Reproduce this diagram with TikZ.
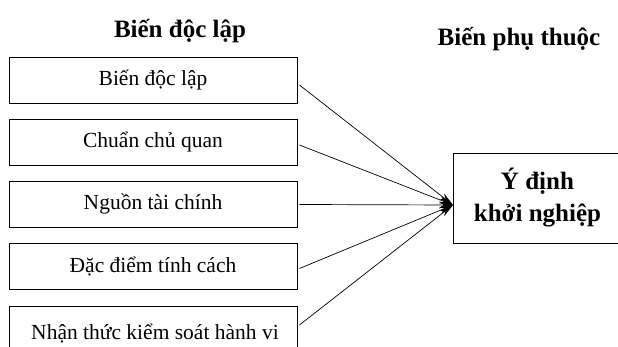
\documentclass[tikz,border=0pt]{standalone}
\usepackage{fontspec}
\setmainfont{Liberation Serif}
\usetikzlibrary{arrows.meta}
\begin{document}
\begin{tikzpicture}[x=1pt,y=1pt,
  varbox/.style={draw, line width=0.9pt, minimum width=288pt, minimum height=46pt, inner sep=0pt, font=\fontsize{21.5}{25}\selectfont},
  title/.style={font=\bfseries\fontsize{25}{30}\selectfont},
  conn/.style={line width=0.7pt, -{Stealth[length=14pt,width=7pt]}}]
\useasboundingbox (0,0) rectangle (618,347);
\begin{scope}
\clip (0,0) rectangle (618,347);
\node[title] (t1) at (180,316) {Biến độc lập};
\node[title] (t2) at (519,308) {Biến phụ thuộc};
\node[varbox] (b1) at (153,267) {Biến độc lập};
\node[varbox] (b2) at (153,205) {Chuẩn chủ quan};
\node[varbox] (b3) at (153,142.5) {Nguồn tài chính};
\node[varbox] (b4) at (153,80.5) {Đặc điểm tính cách};
\node[varbox, minimum height=50pt, anchor=north] (b5) at (153,41) {};
\node[font=\fontsize{21.5}{25}\selectfont] (b5t) at (155,14) {Nhận thức kiểm soát hành vi};
\node[draw, line width=0.9pt, minimum width=168pt, minimum height=90pt, anchor=west, align=center, font=\bfseries\fontsize{25}{32}\selectfont] (y) at (453,149) {Ý định\\khởi nghiệp};
\coordinate (tip) at (453,142);
\draw[conn] ([xshift=2pt,yshift=-5pt]b1.east) -- (tip);
\draw[conn] ([xshift=2pt,yshift=-3pt]b2.east) -- (tip);
\draw[conn] ([xshift=2pt]b3.east) -- (tip);
\draw[conn] ([xshift=2pt,yshift=-2pt]b4.east) -- (tip);
\draw[conn] ([xshift=2pt,yshift=-19pt]b5.north east) -- (tip);
\end{scope}
\end{tikzpicture}
\end{document}
